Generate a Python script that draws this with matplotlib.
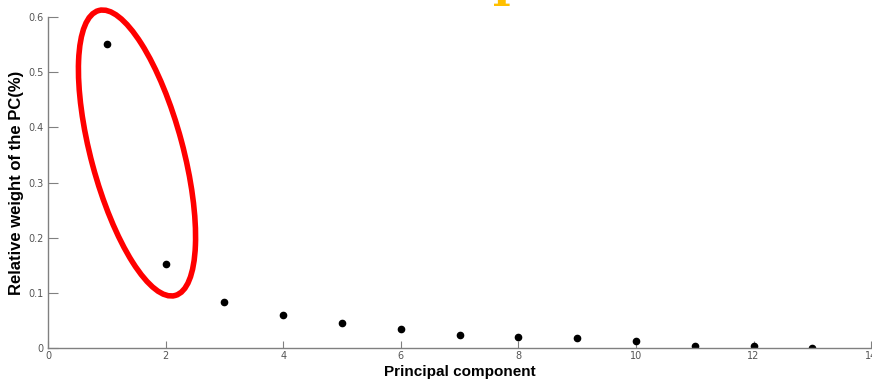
import matplotlib.pyplot as plt
from matplotlib.patches import Ellipse

pc = [1, 2, 3, 4, 5, 6, 7, 8, 9, 10, 11, 12, 13]
weight = [0.551, 0.152, 0.083, 0.060, 0.045, 0.034, 0.0235, 0.020, 0.018, 0.0127, 0.004, 0.004, 0.001]
xticks = [0, 2, 4, 6, 8, 10, 12, 14]
yticks = [0, 0.1, 0.2, 0.3, 0.4, 0.5, 0.6]

fig = plt.figure(figsize=(8.72, 3.80), dpi=100)
ax = fig.add_axes([0.055, 0.084, 0.944, 0.871])
ax.plot(pc, weight, 'o', color='black', markersize=4.5, linestyle='None')
ax.set_xlim(0, 14)
ax.set_ylim(0, 0.6)
ax.set_xticks(xticks)
ax.set_xticklabels([str(v) for v in xticks])
ax.set_yticks(yticks)
ax.set_yticklabels(['0', '0.1', '0.2', '0.3', '0.4', '0.5', '0.6'])
for s in ['top', 'right']:
    ax.spines[s].set_visible(False)
for s in ['left', 'bottom']:
    ax.spines[s].set_color('#808080')
    ax.spines[s].set_linewidth(1.0)
ax.tick_params(axis='y', direction='in', length=7, color='#808080', labelsize=7, labelcolor='#555555', pad=3)
ax.tick_params(axis='x', direction='in', length=5, color='#808080', labelsize=7, labelcolor='#555555', pad=2)
for lbl in ax.get_xticklabels():
    lbl.set_clip_on(False)

ax.set_xlabel("Principal component", fontsize=11, fontweight='bold', family='Liberation Sans', labelpad=3)
ax.set_ylabel("Relative weight of the PC(%)", fontsize=12, fontweight='bold', family='Liberation Sans', labelpad=3)

# red ellipse marking the first two components
ell = Ellipse((1.37, 2.27), 0.92, 2.95, angle=15, fill=False, edgecolor='red', linewidth=4,
              transform=fig.dpi_scale_trans)
fig.patches.append(ell)

# cut-off orange glyph at the top
fig.text(0.575, 0.984, "I", color='#FFC000', fontsize=30, fontweight='bold', family='DejaVu Serif',
         ha='center', va='baseline')

fig.savefig("out.png", dpi=100)
